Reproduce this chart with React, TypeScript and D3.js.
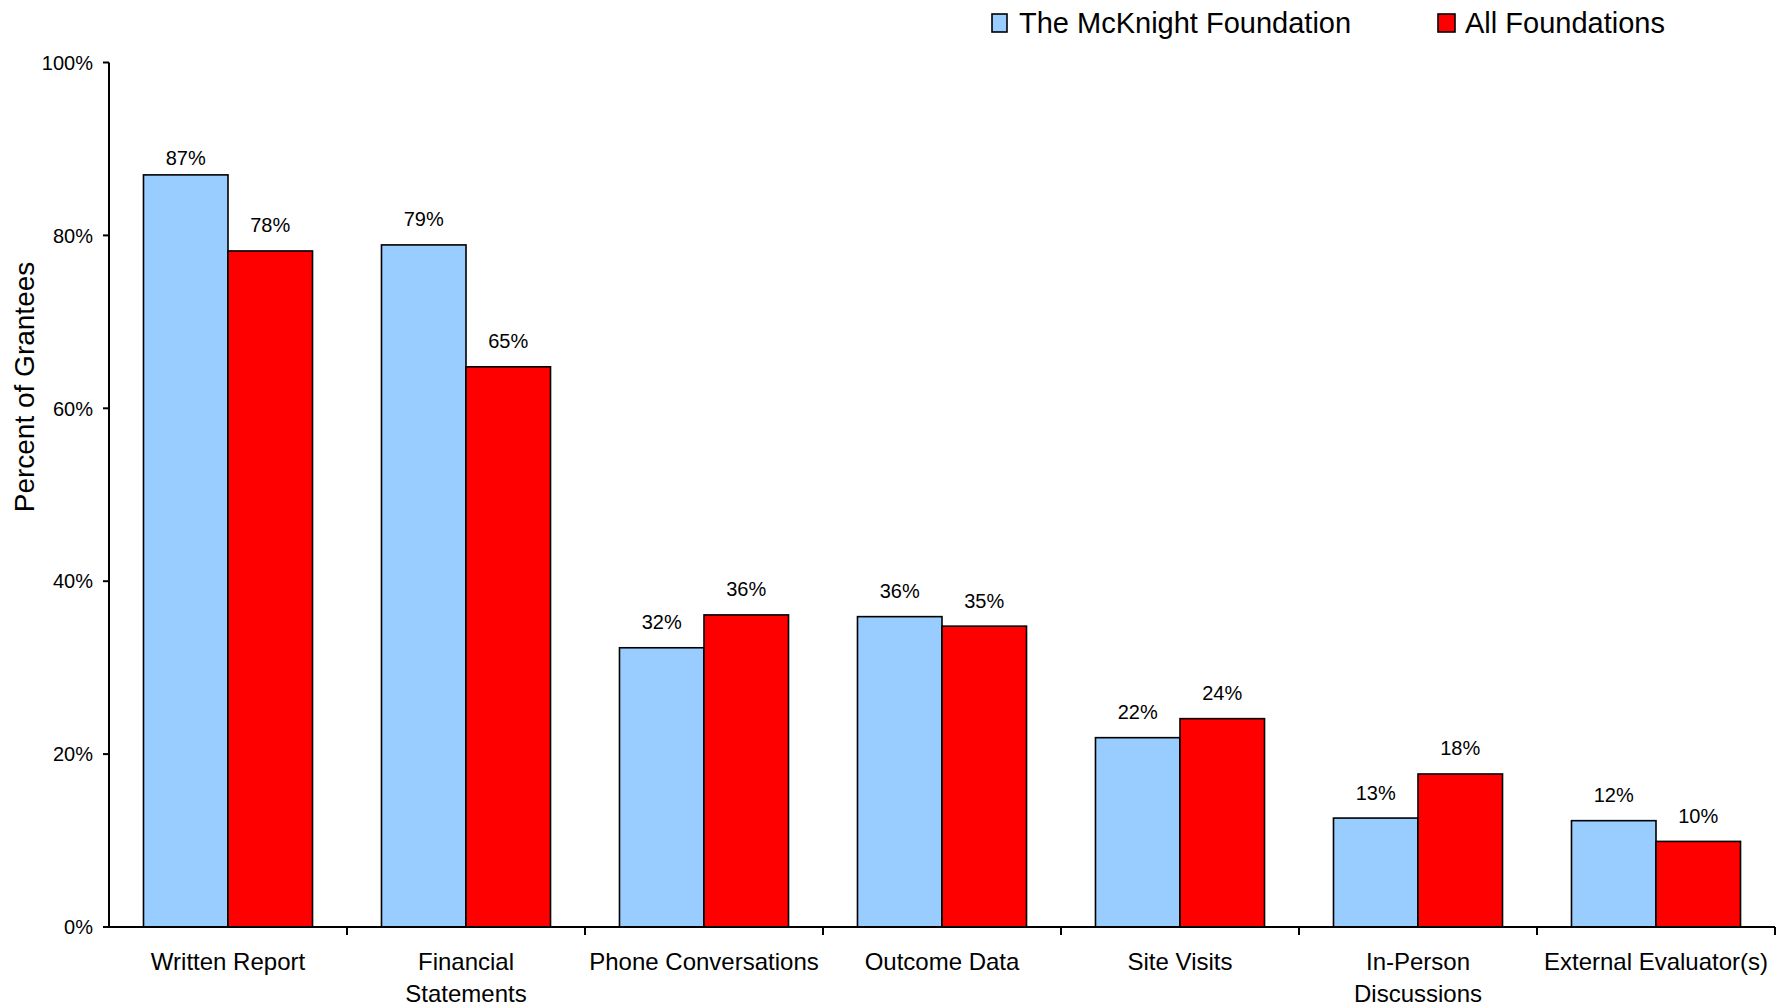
import React from "react";
import * as d3 from "d3";

const categories: string[][] = [
  ["Written Report"],
  ["Financial", "Statements"],
  ["Phone Conversations"],
  ["Outcome Data"],
  ["Site Visits"],
  ["In-Person", "Discussions"],
  ["External Evaluator(s)"],
];
const seriesNames = ["The McKnight Foundation", "All Foundations"];
const mcknight = [87.0, 78.9, 32.3, 35.9, 21.9, 12.6, 12.3];
const allFoundations = [78.2, 64.8, 36.1, 34.8, 24.1, 17.7, 9.9];
const yTicks = [0, 20, 40, 60, 80, 100];
const colors = ["#99CCFF", "#FF0000"];

const W = 1779;
const H = 1006;
const FONT = "'Liberation Sans', Arial, Helvetica, sans-serif";

export default function App() {
  const catKeys = categories.map((c) => c.join(" "));
  const x = d3.scaleBand<string>().domain(catKeys).range([109, 1775]).paddingInner(0).paddingOuter(0);
  const xs = d3
    .scaleBand<string>()
    .domain(seriesNames)
    .range([0, x.bandwidth()])
    .paddingInner(0)
    .paddingOuter(0.408);
  const y = d3.scaleLinear().domain([0, 100]).range([927, 62.5]);
  const series = [mcknight, allFoundations];
  const x0 = 109;
  const y0 = y(0);

  const boundaries = catKeys.map((k) => (x(k) as number) + x.bandwidth());

  return (
    <svg
      width={W}
      height={H}
      viewBox={`0 0 ${W} ${H}`}
      style={{ position: "absolute", left: 0, top: 0, background: "#fff" }}
      fontFamily={FONT}
    >
      <rect x={0} y={0} width={W} height={H} fill="#fff" />
      {/* bars */}
      {series.map((vals, si) =>
        vals.map((v, ci) => {
          const bx = (x(catKeys[ci]) as number) + (xs(seriesNames[si]) as number);
          const by = y(v);
          return (
            <g key={`${si}-${ci}`}>
              <rect
                x={bx}
                y={by}
                width={xs.bandwidth()}
                height={y0 - by}
                fill={colors[si]}
                stroke="#000"
                strokeWidth={1.6}
              />
              <text
                x={bx + xs.bandwidth() / 2}
                y={Math.max(by - 18.5, 165)}
                textAnchor="middle"
                fontSize={20}
                fill="#000"
              >
                {`${Math.round(v)}%`}
              </text>
            </g>
          );
        })
      )}
      {/* y axis */}
      <line x1={x0} x2={x0} y1={y(100)} y2={y0} stroke="#000" strokeWidth={2} />
      {yTicks.map((t) => (
        <g key={t}>
          <line x1={x0 - 6} x2={x0} y1={y(t)} y2={y(t)} stroke="#000" strokeWidth={2} />
          <text x={x0 - 16} y={y(t)} dy="0.36em" textAnchor="end" fontSize={20} fill="#000">
            {`${t}%`}
          </text>
        </g>
      ))}
      {/* x axis */}
      <line x1={x0 - 6} x2={1775} y1={y0} y2={y0} stroke="#000" strokeWidth={2} />
      {boundaries.map((b, i) => (
        <line key={i} x1={b} x2={b} y1={y0} y2={y0 + 8} stroke="#000" strokeWidth={2} />
      ))}
      {categories.map((lines, ci) => {
        const cx = (x(catKeys[ci]) as number) + x.bandwidth() / 2;
        return (
          <text key={ci} x={cx} y={970} textAnchor="middle" fontSize={24} fill="#000">
            {lines.map((l, li) => (
              <tspan key={li} x={cx} dy={li === 0 ? 0 : 32}>
                {l}
              </tspan>
            ))}
          </text>
        );
      })}
      {/* y title */}
      <text
        transform={`translate(34, 387) rotate(-90)`}
        textAnchor="middle"
        fontSize={28}
        fill="#000"
      >
        Percent of Grantees
      </text>
      {/* legend */}
      <rect x={992} y={14} width={15} height={18} fill={colors[0]} stroke="#000" strokeWidth={1.6} />
      <text x={1019} y={33} fontSize={29} fill="#000">
        {seriesNames[0]}
      </text>
      <rect x={1438} y={14} width={17} height={18} fill={colors[1]} stroke="#000" strokeWidth={1.6} />
      <text x={1465} y={33} fontSize={29} fill="#000">
        {seriesNames[1]}
      </text>
    </svg>
  );
}
